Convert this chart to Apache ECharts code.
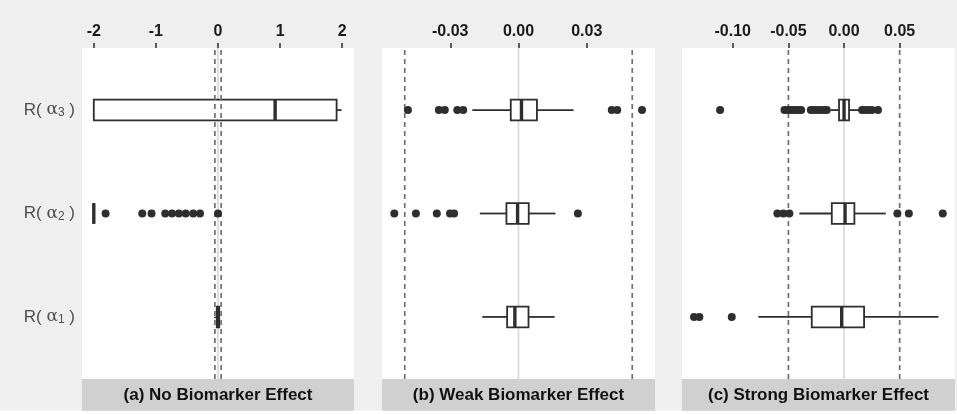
<!DOCTYPE html>
<html><head><meta charset="utf-8">
<script src="https://cdn.jsdelivr.net/npm/echarts@6/dist/echarts.min.js"></script>
<style>html,body{margin:0;padding:0;background:#fff;}#c{width:957px;height:414px;}</style>
</head><body><div id="c"></div>
<script>
// ---- data ----
const rowLabels = ['1', '2', '3']; // subscripts for R(α_k), rows at y = 1,2,3
const rowPos = [1, 2, 3];
const panelTitles = ['(a) No Biomarker Effect', '(b) Weak Biomarker Effect', '(c) Strong Biomarker Effect'];
const ticksA = [-2, -1, 0, 1, 2];
const ticksB = [-0.03, 0, 0.03];
const ticksC = [-0.10, -0.05, 0, 0.05];
const rangeA = [-2.19, 2.19];
const rangeB = [-0.06, 0.06];
const rangeC = [-0.1456, 0.0997];
const refDashed = [-0.05, 0.05];
const refZero = [0];
// boxes: [row, lowWhisker, q1, median, q3, highWhisker]
const boxesA = [[1, -0.02, -0.02, 0, 0.02, 0.02], [2, -2, -2, -2, -2, -2], [3, -2, -2, 0.92, 1.91, 1.99]];
const boxesB = [[1, -0.0159, -0.0050, -0.0016, 0.0044, 0.0159], [2, -0.0170, -0.0053, -0.0004, 0.0045, 0.0162], [3, -0.0203, -0.0034, 0.0013, 0.0081, 0.0242]];
const boxesC = [[1, -0.077, -0.029, -0.0021, 0.018, 0.0848], [2, -0.0402, -0.011, 0.0009, 0.0093, 0.0375], [3, -0.012, -0.0045, 0.0000, 0.0045, 0.015]];
// outliers: [value, row]
const outA2 = [-1.81, -1.22, -1.07, -0.85, -0.74, -0.63, -0.52, -0.40, -0.29, 0];
const outB2 = [-0.0546, -0.0451, -0.0359, -0.0301, -0.0283, 0.0261];
const outB3 = [-0.0486, -0.0350, -0.0324, -0.0269, -0.0243, 0.0410, 0.0434, 0.0543];
const outC1 = [-0.1348, -0.1300, -0.1009];
const outC2 = [-0.0599, -0.0545, -0.0491, 0.0479, 0.0582, 0.0887];
const outC3 = [-0.1114, -0.0535, -0.051, -0.0485, -0.046, -0.0435, -0.041, -0.0385, -0.0298, -0.027, -0.024, -0.021, -0.018, -0.0155, 0.0162, 0.019, 0.022, 0.025, 0.0305];

// ---- layout ----
const Y_MIN = 0.4, Y_MAX = 3.6;
const grids = [
  {left: 82, top: 48, width: 272, height: 331},
  {left: 382, top: 48, width: 273, height: 331},
  {left: 682, top: 48, width: 273, height: 331}
];
const FONT = '"Liberation Sans", Arial, sans-serif';
const INK = '#2e2e2e';

function pts(vals, row) { return vals.map(v => [v, row]); }

function renderBox(params, api) {
  const y = api.value(0);
  const lo = api.value(1), q1 = api.value(2), med = api.value(3), q3 = api.value(4), hi = api.value(5);
  const h = api.size([0, 0.2])[1];
  const pLo = api.coord([lo, y]), pQ1 = api.coord([q1, y]), pMed = api.coord([med, y]), pQ3 = api.coord([q3, y]), pHi = api.coord([hi, y]);
  const cy = pMed[1];
  const ls = {stroke: INK, lineWidth: 1.8};
  return {type: 'group', children: [
    {type: 'line', shape: {x1: pLo[0], y1: cy, x2: pQ1[0], y2: cy}, style: ls},
    {type: 'line', shape: {x1: pQ3[0], y1: cy, x2: pHi[0], y2: cy}, style: ls},
    {type: 'rect', shape: {x: pQ1[0], y: cy - h / 2, width: pQ3[0] - pQ1[0], height: h}, style: {fill: '#fff', stroke: INK, lineWidth: 1.8}},
    {type: 'line', shape: {x1: pMed[0], y1: cy - h / 2, x2: pMed[0], y2: cy + h / 2}, style: {stroke: INK, lineWidth: 3.4}}
  ]};
}
function renderRef(dashed) {
  return function (params, api) {
    const x = api.value(0);
    const p1 = api.coord([x, Y_MIN]), p2 = api.coord([x, Y_MAX]);
    return {type: 'line', shape: {x1: p1[0], y1: p1[1], x2: p2[0], y2: p2[1]},
      style: dashed ? {stroke: '#707070', lineWidth: 1.7, lineDash: [5, 4]} : {stroke: '#D9D9D9', lineWidth: 1.7}};
  };
}

const xTicks = [ticksA, ticksB, ticksC];
const xRanges = [rangeA, rangeB, rangeC];
const fmts = [v => String(Math.round(v)), v => (+v).toFixed(2), v => (+v).toFixed(2)];

const xAxis = xTicks.map((t, i) => ({
  type: 'value', gridIndex: i, position: 'top', min: xRanges[i][0], max: xRanges[i][1],
  axisLine: {show: false}, splitLine: {show: false},
  axisTick: {show: true, length: 5, customValues: t, lineStyle: {color: INK, width: 1.5}},
  axisLabel: {customValues: t, formatter: fmts[i], margin: 8, color: '#1a1a1a', fontWeight: 'bold', fontSize: 16, fontFamily: FONT}
}));
const yAxis = grids.map((g, i) => ({
  type: 'value', gridIndex: i, min: Y_MIN, max: Y_MAX,
  axisLine: {show: false}, splitLine: {show: false},
  axisTick: {show: i === 0, length: 4, customValues: rowPos, lineStyle: {color: INK, width: 1.3}},
  axisLabel: {show: i === 0, customValues: rowPos, margin: 7,
    formatter: v => '{t|R( }{a|α}{s|' + rowLabels[Math.round(v) - 1] + '}{t| )}',
    rich: {
      t: {fontSize: 17, color: '#4D4D4D', fontFamily: FONT},
      a: {fontSize: 17, color: '#4D4D4D', fontFamily: '"DejaVu Serif", serif'},
      s: {fontSize: 12, color: '#4D4D4D', fontFamily: FONT, verticalAlign: 'bottom', padding: [6, 0, 0, 0]}
    }}
}));

const series = [];
const boxes = [boxesA, boxesB, boxesC];
const outs = [
  pts(outA2, 2),
  pts(outB2, 2).concat(pts(outB3, 3)),
  pts(outC1, 1).concat(pts(outC2, 2), pts(outC3, 3))
];
for (let i = 0; i < 3; i++) {
  series.push({type: 'custom', xAxisIndex: i, yAxisIndex: i, z: 1, silent: true,
    data: refZero.map(v => [v]), encode: {x: 0}, renderItem: renderRef(false)});
  series.push({type: 'custom', xAxisIndex: i, yAxisIndex: i, z: 2, silent: true,
    data: boxes[i], encode: {x: [1, 2, 3, 4, 5], y: 0}, renderItem: renderBox});
  series.push({type: 'custom', xAxisIndex: i, yAxisIndex: i, z: 3, silent: true,
    data: refDashed.map(v => [v]), encode: {x: 0}, renderItem: renderRef(true)});
  series.push({type: 'scatter', xAxisIndex: i, yAxisIndex: i, z: 4, silent: true,
    symbolSize: 8, itemStyle: {color: INK, opacity: 1}, data: outs[i]});
}

const graphic = [
  {type: 'rect', shape: {x: 0, y: 410.7, width: 957, height: 4}, style: {fill: '#fff'}}
].concat(grids.map((g, i) => ({
  type: 'rect', shape: {x: g.left, y: 379, width: g.width, height: 31.7}, style: {fill: '#D0D0D0'},
  textContent: {style: {text: panelTitles[i], fontSize: 17, fontWeight: 'bold', fill: '#111', fontFamily: FONT}},
  textConfig: {position: 'inside'}
})));

const chart = echarts.init(document.getElementById('c'));
chart.setOption({
  backgroundColor: '#EFEFEF',
  animation: false,
  grid: grids.map(g => Object.assign({show: true, backgroundColor: '#fff', borderWidth: 0}, g)),
  xAxis, yAxis, series, graphic
});
</script></body></html>
